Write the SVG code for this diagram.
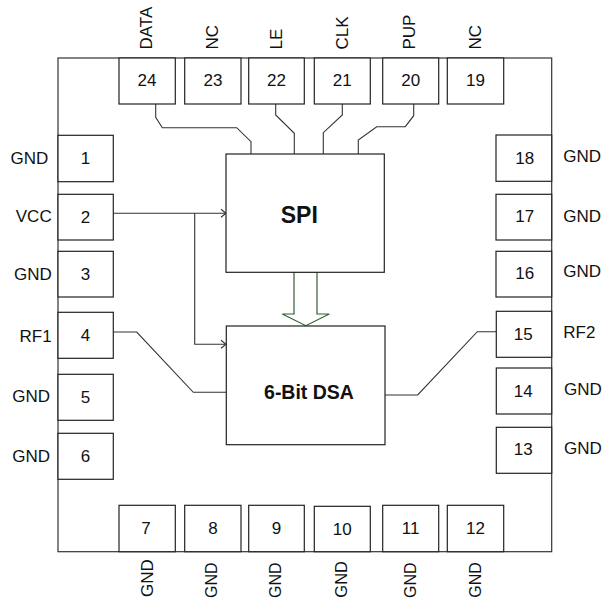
<svg xmlns="http://www.w3.org/2000/svg" width="604" height="601" viewBox="0 0 604 601">
<style>
.pin{fill:#fff;stroke:#222;stroke-width:1.2}
.box{fill:#fff;stroke:#222;stroke-width:1.2}
.frame{fill:#fff;stroke:#333;stroke-width:1.2}
.w{fill:none;stroke:#333;stroke-width:1.1}
text{font-family:"Liberation Sans",Arial,sans-serif;font-size:17px;fill:#111}
.n{text-anchor:middle}
.e{text-anchor:end}
.b{font-weight:bold;text-anchor:middle}
</style>
<defs>
<marker id="arr" markerWidth="8" markerHeight="10" refX="6" refY="5" orient="auto" markerUnits="userSpaceOnUse">
<polyline points="1,1 6,5 1,9" fill="none" stroke="#333" stroke-width="1.1"/>
</marker>
</defs>
<rect class="frame" x="58" y="58" width="493.7" height="493.7"/>
<g id="connectors">
<path class="w" d="M155.7,104 V117.3 L162.3,127.7 H236.7 L251,141.7 V154"/>
<path class="w" d="M275.7,104 V115 L294.3,133.3 V154"/>
<path class="w" d="M342.3,104 V115 L323.3,132.7 V154"/>
<path class="w" d="M413.7,104 V115.7 L405.3,126.7 H376.7 L358.3,140 V154"/>
<path class="w" d="M113.3,213.3 H226" marker-end="url(#arr)"/>
<path class="w" d="M194.7,213.3 V344.3 H226" marker-end="url(#arr)"/>
<path class="w" d="M113.3,332 H136.7 L193.3,392.3 H226"/>
<path class="w" d="M385,395 H417.7 L477.3,331.7 H496"/>
<polygon points="294,272 294,314 282.3,314 305.8,325.7 329.3,314 317,314 317,272" fill="#fff" stroke="#2f5f35" stroke-width="1.2"/>
</g>
<g id="spi"><rect class="box" x="226" y="154" width="158.3" height="118.3"/><text class="b" x="299.3" y="222.7" style="font-size:23px">SPI</text></g>
<g id="dsa"><rect class="box" x="226.3" y="326" width="158.7" height="118.7"/><text class="b" x="309" y="399" style="font-size:19.5px">6-Bit DSA</text></g>
<g id="pin24"><rect class="pin" x="119" y="58" width="56.3" height="46"/><text class="n" x="147" y="86">24</text><text transform="translate(151.7,49.5) rotate(-90)">DATA</text></g>
<g id="pin23"><rect class="pin" x="184.7" y="58" width="56.3" height="46"/><text class="n" x="213" y="86">23</text><text transform="translate(218.3,49.5) rotate(-90)">NC</text></g>
<g id="pin22"><rect class="pin" x="248.7" y="58" width="55.6" height="46"/><text class="n" x="276.5" y="86">22</text><text transform="translate(282.3,49.5) rotate(-90)">LE</text></g>
<g id="pin21"><rect class="pin" x="314.3" y="58" width="56" height="46"/><text class="n" x="342.3" y="86">21</text><text transform="translate(348.3,49.5) rotate(-90)">CLK</text></g>
<g id="pin20"><rect class="pin" x="382.7" y="58" width="56" height="46"/><text class="n" x="410.7" y="86">20</text><text transform="translate(415,49.5) rotate(-90)">PUP</text></g>
<g id="pin19"><rect class="pin" x="447.3" y="58" width="56.4" height="46"/><text class="n" x="475.5" y="86">19</text><text transform="translate(481,49.5) rotate(-90)">NC</text></g>
<g id="pin1"><rect class="pin" x="58" y="135.3" width="55.3" height="46.4"/><text class="n" x="85.5" y="164.3">1</text><text class="e" x="48.3" y="164.3">GND</text></g>
<g id="pin2"><rect class="pin" x="58" y="194.3" width="55.3" height="45.7"/><text class="n" x="85.5" y="223.3">2</text><text class="e" x="51.7" y="221.7">VCC</text></g>
<g id="pin3"><rect class="pin" x="58" y="251.3" width="55.3" height="45.7"/><text class="n" x="85.5" y="280">3</text><text class="e" x="51.7" y="280">GND</text></g>
<g id="pin4"><rect class="pin" x="58" y="312.3" width="55.3" height="46"/><text class="n" x="85.5" y="340.7">4</text><text class="e" x="51.7" y="342">RF1</text></g>
<g id="pin5"><rect class="pin" x="58" y="374.3" width="55.3" height="46"/><text class="n" x="85.5" y="403.3">5</text><text class="e" x="50" y="402.3">GND</text></g>
<g id="pin6"><rect class="pin" x="58" y="433.3" width="55.3" height="46"/><text class="n" x="85.5" y="462.3">6</text><text class="e" x="50" y="461.7">GND</text></g>
<g id="pin18"><rect class="pin" x="496" y="135" width="55.7" height="46.3"/><text class="n" x="524.7" y="164.3">18</text><text x="563.3" y="162.3">GND</text></g>
<g id="pin17"><rect class="pin" x="496" y="194.3" width="55.7" height="45.7"/><text class="n" x="524.7" y="222.3">17</text><text x="563.3" y="221.7">GND</text></g>
<g id="pin16"><rect class="pin" x="496" y="251.3" width="55.7" height="45.7"/><text class="n" x="524.7" y="279.3">16</text><text x="563.3" y="277.3">GND</text></g>
<g id="pin15"><rect class="pin" x="496.3" y="311.3" width="55.4" height="46"/><text class="n" x="523.3" y="340">15</text><text x="563.3" y="338.3">RF2</text></g>
<g id="pin14"><rect class="pin" x="496.3" y="368" width="55.4" height="46"/><text class="n" x="523.3" y="397.3">14</text><text x="564" y="395">GND</text></g>
<g id="pin13"><rect class="pin" x="496.3" y="427.3" width="55.4" height="46"/><text class="n" x="523.3" y="455">13</text><text x="564" y="454">GND</text></g>
<g id="pin7"><rect class="pin" x="119" y="505.3" width="56.3" height="46.4"/><text class="n" x="146" y="534.3">7</text><text transform="translate(152.7,597) rotate(-90)">GND</text></g>
<g id="pin8"><rect class="pin" x="184.7" y="505.3" width="56.3" height="46.4"/><text class="n" x="213" y="534.3">8</text><text transform="translate(217.3,598) rotate(-90)" style="font-size:16px">GND</text></g>
<g id="pin9"><rect class="pin" x="248.7" y="505.3" width="55.6" height="46.4"/><text class="n" x="276.5" y="534.3">9</text><text transform="translate(281,598) rotate(-90)" style="font-size:16px">GND</text></g>
<g id="pin10"><rect class="pin" x="314.3" y="506.3" width="56" height="45.4"/><text class="n" x="342.3" y="535.3">10</text><text transform="translate(347.3,597.7) rotate(-90)" style="font-size:16.5px">GND</text></g>
<g id="pin11"><rect class="pin" x="382.7" y="505.3" width="56" height="46.4"/><text class="n" x="410.7" y="534">11</text><text transform="translate(416,598) rotate(-90)" style="font-size:16px">GND</text></g>
<g id="pin12"><rect class="pin" x="447.3" y="505.3" width="56.4" height="46.4"/><text class="n" x="475.5" y="534.3">12</text><text transform="translate(480.7,597.7) rotate(-90)" style="font-size:16px">GND</text></g>
</svg>
